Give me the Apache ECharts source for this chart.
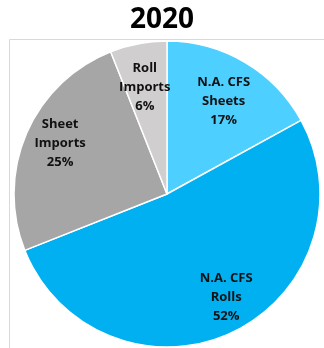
<!DOCTYPE html>
<html>
<head>
<meta charset="utf-8">
<style>
  html, body { margin: 0; padding: 0; background: #fff; }
  #chart { width: 324px; height: 348px; }
</style>
<script src="https://cdn.jsdelivr.net/npm/echarts@6/dist/echarts.min.js"></script>
</head>
<body>
<div id="chart"></div>
<script>
// Market share, 2020 (percent), clockwise from 12 o'clock
const categories = ['N.A. CFS\nSheets', 'N.A. CFS\nRolls', 'Sheet\nImports', 'Roll\nImports'];
const shares = [17, 52, 25, 6];
const sliceColors = ['#4dcfff', '#00b0f0', '#a6a6a6', '#d0cece'];
// small nudges for individual labels
const labelNudges = [[-1, 5], [11, 1], [-3, -6], [-1, 4]];

const FONT = '"Open Sans", "DejaVu Sans", sans-serif';
const chart = echarts.init(document.getElementById('chart'), null, { renderer: 'canvas' });

const slices = categories.map((name, i) => ({
  name: name,
  value: shares[i],
  itemStyle: { color: sliceColors[i] }
}));

const pieCenter = [167, 194];
const pieRadius = 153;

chart.setOption({
  animation: false,
  title: {
    text: '2020',
    left: 'center',
    top: 1,
    textStyle: { fontFamily: FONT, fontSize: 28, fontWeight: 'bold', color: '#000' }
  },
  graphic: [{
    type: 'rect',
    shape: { x: 9.5, y: 39.5, width: 330, height: 320 },
    style: { fill: 'none', stroke: '#d9d9d9', lineWidth: 1 },
    z: -1
  }],
  series: [
    {
      // the slices
      type: 'pie',
      center: pieCenter,
      radius: [0, pieRadius],
      startAngle: 90,
      clockwise: true,
      silent: true,
      label: { show: false },
      labelLine: { show: false },
      itemStyle: { borderColor: '#ffffff', borderWidth: 1.5 },
      data: slices
    },
    {
      // labels ring: places the text toward the outer part of each slice
      type: 'pie',
      center: pieCenter,
      radius: [pieRadius * 0.44, pieRadius],
      startAngle: 90,
      clockwise: true,
      silent: true,
      itemStyle: { color: 'rgba(0,0,0,0)', borderWidth: 0 },
      label: {
        show: true,
        position: 'inside',
        formatter: p => p.name + '\n' + p.value + '%',
        fontFamily: FONT,
        fontSize: 13,
        fontWeight: 'bold',
        lineHeight: 19,
        color: '#111',
        align: 'center'
      },
      labelLine: { show: false },
      data: categories.map((name, i) => ({
        name: name,
        value: shares[i],
        label: { offset: labelNudges[i] }
      }))
    }
  ]
});
</script>
</body>
</html>
